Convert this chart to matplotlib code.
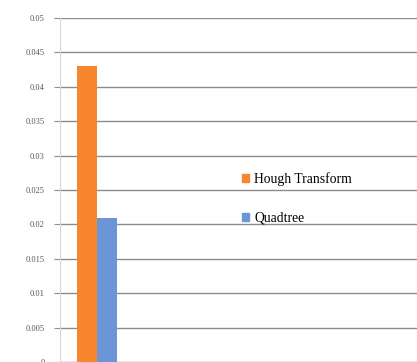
import matplotlib.pyplot as plt
import numpy as np
from matplotlib.patches import Patch

# 数据
series = ['Hough Transform', 'Quadtree']
values = [0.043, 0.021]
colors = ['#F7862F', '#6B95D6']
y_ticks = [0, 0.005, 0.01, 0.015, 0.02, 0.025, 0.03, 0.035, 0.04, 0.045, 0.05]
y_labels = ['0', '0.005', '0.01', '0.015', '0.02', '0.025', '0.03', '0.035', '0.04', '0.045', '0.05']

plt.rcParams['font.family'] = ['Liberation Serif', 'DejaVu Serif']

fig = plt.figure(figsize=(4.17, 3.62), dpi=100)
ax = fig.add_axes([60 / 417, 0.0, 357 / 417, 344 / 362])

width = 0.2
x = np.array([-width / 2, width / 2])
for xi, v, c, name in zip(x, values, colors, series):
    ax.bar(xi, v, width=width, color=c, label=name, zorder=3)

ax.set_xlim(-0.37, 3.2)
ax.set_ylim(0, 0.05)
ax.set_yticks(y_ticks)
ax.set_yticklabels(y_labels, fontsize=6, color='#555555')
ax.set_xticks([])
ax.yaxis.grid(True, color='#8c8c8c', linewidth=1.0, zorder=0)
ax.tick_params(axis='y', length=4, color='#8c8c8c', pad=7)
for s in ['top', 'right', 'bottom']:
    ax.spines[s].set_visible(False)
ax.spines['left'].set_color('#d8d8d8')

# 图例
handles = [Patch(color=c) for c in colors]
fig.legend(handles, series, loc='upper left', bbox_to_anchor=(230 / 417, 1 - 160 / 362),
           frameon=False, fontsize=9.8, handlelength=0.5, handleheight=0.5,
           handletextpad=0.4, labelspacing=1.9)

fig.savefig('out.png', dpi=100)
